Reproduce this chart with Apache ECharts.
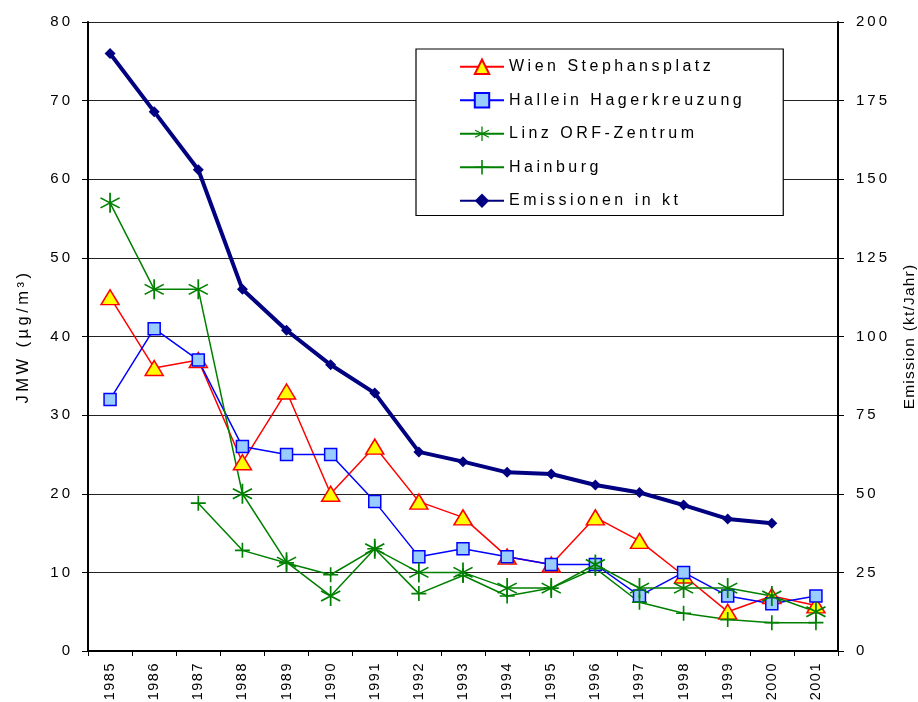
<!DOCTYPE html>
<html>
<head>
<meta charset="utf-8">
<script src="https://cdn.jsdelivr.net/npm/echarts@6/dist/echarts.min.js"></script>
<style>
html,body{margin:0;padding:0;background:#fff;}
#chart{width:918px;height:702px;}
</style>
</head>
<body>
<div id="chart"></div>
<script>
// ---- data ----
const years = ['1985','1986','1987','1988','1989','1990','1991','1992','1993','1994','1995','1996','1997','1998','1999','2000','2001'];
const wien = [45,36,37,24,33,20,26,19,17,12,11,17,14,9.6,5,7,5.8];
const hallein = [32,41,37,26,25,25,19,12,13,12,11,11,7,10,7,6,7];
const linz = [57,46,46,20,11.3,7,13,10,10,8,8,11,8,8,8,7,5];
const hainburg = [null,null,18.8,12.8,11.2,9.7,13,7.3,9.6,7,8,10.5,6.2,4.8,4,3.6,3.6];
const emissionen = [190,171.5,153,115,102,91,82,63.3,60.2,56.8,56.3,52.8,50.4,46.4,42,40.6,null];
const leftTicks = {min:0,max:80,interval:10};
const rightTicks = {min:0,max:200,interval:25};

// letter spacing emulation (text styling)
const spacing = {'16px':'3.5px','15px':'3px','16.5px':'3.5px','15.5px':'1.2px','14.5px':'1.5px'};
const P = CanvasRenderingContext2D.prototype;
['fillText','strokeText','measureText'].forEach(fn=>{
  const orig = P[fn];
  P[fn] = function(...a){
    const m = /(\d+(?:\.\d+)?px)/.exec(this.font);
    try { this.letterSpacing = (m && spacing[m[1]]) || '0px'; } catch(e){}
    return orig.apply(this,a);
  };
});

// marker paths
function bar(x1,y1,x2,y2,h){
  const dx=x2-x1, dy=y2-y1, L=Math.hypot(dx,dy);
  const nx=-dy/L*h, ny=dx/L*h;
  const p=[[x1-nx,y1-ny],[x2-nx,y2-ny],[x2+nx,y2+ny],[x1+nx,y1+ny]];
  return 'M'+p.map(q=>q[0].toFixed(2)+','+q[1].toFixed(2)).join('L')+'Z';
}
const c=50, r=50;
const starPath = 'path://' + bar(c,0,c,100,4) +
  bar(c-r*0.866,c-r*0.5,c+r*0.866,c+r*0.5,4) +
  bar(c-r*0.866,c+r*0.5,c+r*0.866,c-r*0.5,4);
const plusPath = 'path://' + bar(0,50,100,50,5.5) + bar(50,0,50,100,5.5);

const font = 'Liberation Sans, Arial, sans-serif';
const chart = echarts.init(document.getElementById('chart'), null, {renderer:'canvas'});
const cat = {
  type:'category', data:years, boundaryGap:true,
  axisLine:{lineStyle:{color:'#000',width:2}},
  axisTick:{show:true,length:5,lineStyle:{color:'#000',width:1}},
  axisLabel:{rotate:90,fontSize:14.5,color:'#000',fontFamily:font,margin:11,interval:0},
  splitLine:{show:false}
};
chart.setOption({
  animation:false,
  textStyle:{fontFamily:font},
  grid:{left:88,right:80,top:22,bottom:51,containLabel:false,outerBoundsMode:'none'},
  legend:{
    orient:'vertical', left:416, top:49,
    padding:[8,38,5,43], itemGap:14, itemWidth:44, itemHeight:18,
    backgroundColor:'#fff', borderColor:'#000', borderWidth:1.2,
    textStyle:{fontSize:16,color:'#000',fontFamily:font},
    data:['Wien Stephansplatz','Hallein Hagerkreuzung','Linz ORF-Zentrum','Hainburg','Emissionen in kt']
  },
  xAxis:[cat, Object.assign({},cat,{position:'top',axisLabel:{show:false},axisTick:{show:false}})],
  yAxis:[
    {type:'value',min:leftTicks.min,max:leftTicks.max,interval:leftTicks.interval,position:'left',
     name:'JMW (µg/m³)',nameLocation:'middle',nameGap:54,nameRotate:90,
     nameTextStyle:{fontSize:16.5,color:'#000',fontFamily:font},
     axisLine:{show:true,lineStyle:{color:'#000',width:2}},
     axisTick:{show:true,length:6,lineStyle:{color:'#000'}},
     axisLabel:{fontSize:15,color:'#000',margin:15,fontFamily:font},
     splitLine:{show:true,lineStyle:{color:'#222',width:1}}},
    {type:'value',min:rightTicks.min,max:rightTicks.max,interval:rightTicks.interval,position:'right',
     name:'Emission (kt/Jahr)',nameLocation:'middle',nameGap:60,nameRotate:90,
     nameTextStyle:{fontSize:15.5,color:'#000',fontFamily:font},
     axisLine:{show:true,lineStyle:{color:'#000',width:2}},
     axisTick:{show:true,length:6,lineStyle:{color:'#000'}},
     axisLabel:{fontSize:15,color:'#000',margin:18,fontFamily:font},
     splitLine:{show:false}}
  ],
  series:[
    {name:'Wien Stephansplatz',type:'line',data:wien,yAxisIndex:0,
     symbol:'triangle',symbolSize:[18,15],
     lineStyle:{color:'#ff0000',width:1.5},
     itemStyle:{color:'#ffff00',borderColor:'#ff0000',borderWidth:1.5}},
    {name:'Hallein Hagerkreuzung',type:'line',data:hallein,yAxisIndex:0,
     symbol:'rect',symbolSize:12,
     lineStyle:{color:'#0000ff',width:1.5},
     itemStyle:{color:'#99ccff',borderColor:'#0000ff',borderWidth:1.5}},
    {name:'Linz ORF-Zentrum',type:'line',data:linz,yAxisIndex:0,
     symbol:starPath,symbolSize:[20,20],
     lineStyle:{color:'#008000',width:1.5},
     itemStyle:{color:'#008000'}},
    {name:'Hainburg',type:'line',data:hainburg,yAxisIndex:0,
     symbol:plusPath,symbolSize:[15,15],connectNulls:false,
     lineStyle:{color:'#008000',width:1.5},
     itemStyle:{color:'#008000'}},
    {name:'Emissionen in kt',type:'line',data:emissionen,yAxisIndex:1,
     symbol:'diamond',symbolSize:11,
     lineStyle:{color:'#000080',width:4},
     itemStyle:{color:'#000080'}}
  ]
});
</script>
</body>
</html>
